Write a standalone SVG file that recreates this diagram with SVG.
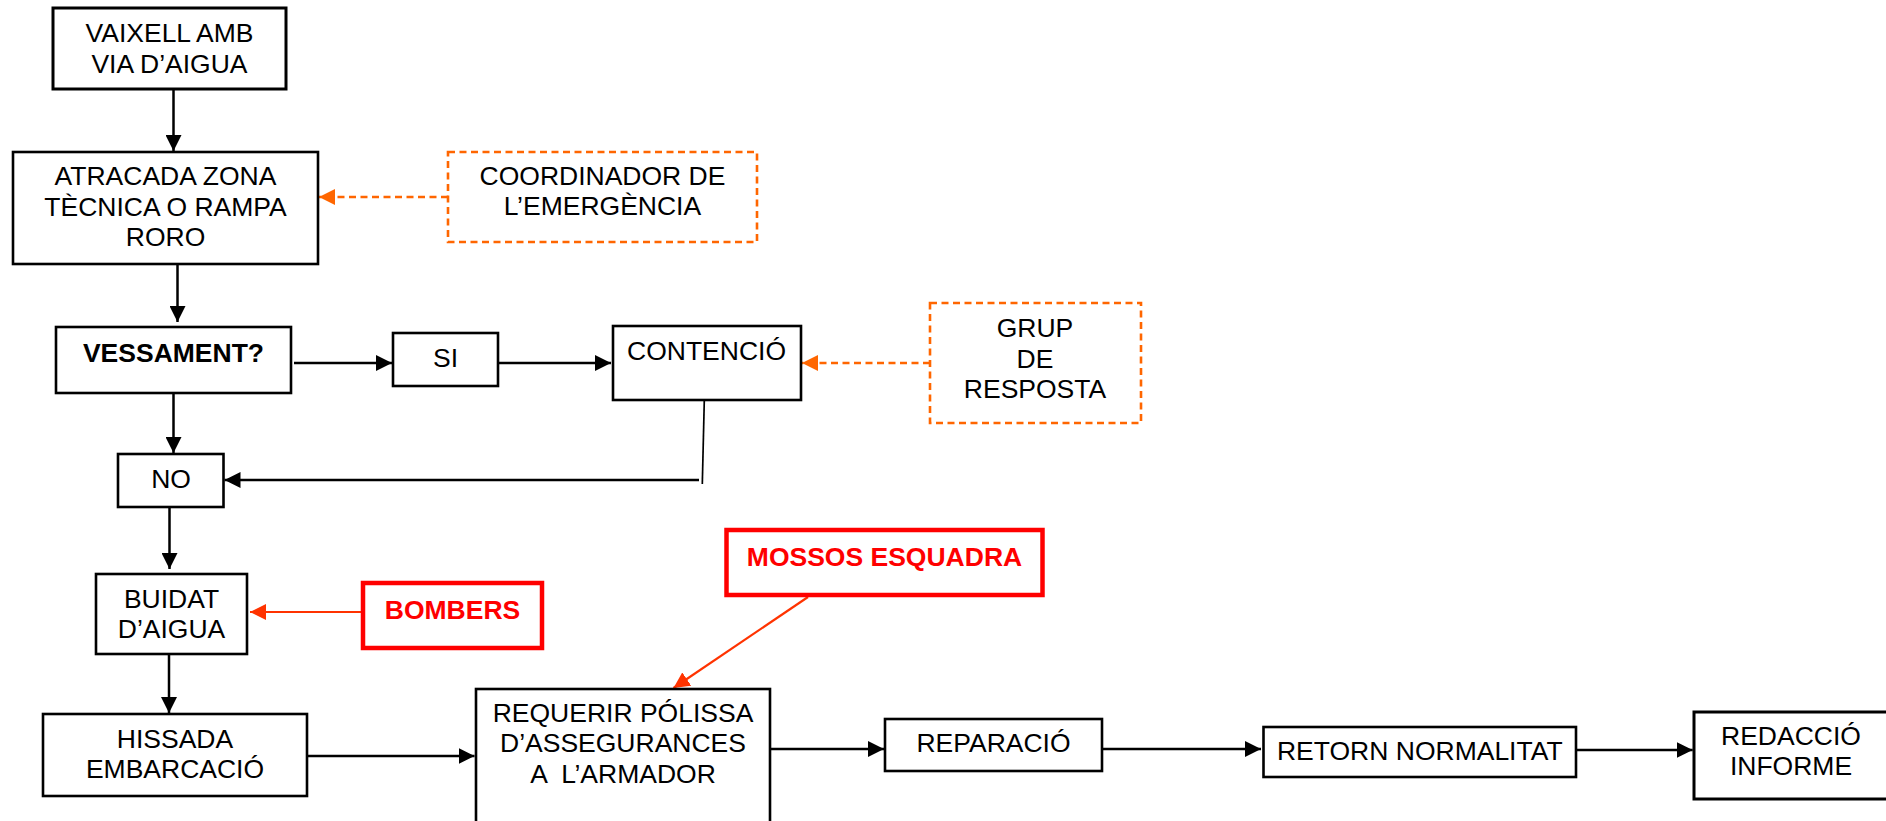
<svg xmlns="http://www.w3.org/2000/svg" width="1886" height="821" viewBox="0 0 1886 821">
<style>
.box{fill:#fff;stroke:#000;stroke-width:2.6}
.dbox{fill:#fff;stroke:#FF6600;stroke-width:2.6;stroke-dasharray:7 4.5}
.rbox{fill:#fff;stroke:#FF0000;stroke-width:4.5}
.t{font-family:"Liberation Sans",Arial,sans-serif;font-size:26.5px;fill:#000;text-anchor:middle}
.b{font-weight:bold}
.r{fill:#FF0000;font-weight:bold}
.c{fill:none;stroke:#000;stroke-width:2.5}
.co{fill:none;stroke:#FF6600;stroke-width:2.6;stroke-dasharray:7 4.5}
.cr{fill:none;stroke:#FF3300;stroke-width:2.2}
</style>
<defs>
<marker id="ak" markerUnits="userSpaceOnUse" markerWidth="16" markerHeight="16" refX="16" refY="8" orient="auto"><path d="M0,0 L16,8 L0,16 Z" fill="#000"/></marker>
<marker id="ao" markerUnits="userSpaceOnUse" markerWidth="16" markerHeight="16" refX="16" refY="8" orient="auto"><path d="M0,0 L16,8 L0,16 Z" fill="#FF6600"/></marker>
<marker id="ar" markerUnits="userSpaceOnUse" markerWidth="16" markerHeight="16" refX="16" refY="8" orient="auto"><path d="M0,0 L16,8 L0,16 Z" fill="#FF3300"/></marker>
</defs>
<rect width="1886" height="821" fill="#fff"/>
<g id="connectors">
<line class="c" x1="173.5" y1="89" x2="173.5" y2="151" marker-end="url(#ak)"/>
<line class="c" x1="177.5" y1="263" x2="177.5" y2="322" marker-end="url(#ak)"/>
<line class="c" x1="173.5" y1="393" x2="173.5" y2="453" marker-end="url(#ak)"/>
<line class="c" x1="294" y1="363" x2="392" y2="363" marker-end="url(#ak)"/>
<line class="c" x1="498" y1="363" x2="611" y2="363" marker-end="url(#ak)"/>
<line class="c" x1="704.3" y1="400" x2="702.3" y2="484" style="stroke-width:1.7"/>
<line class="c" x1="699" y1="480" x2="224.5" y2="480" marker-end="url(#ak)"/>
<line class="c" x1="169.5" y1="507" x2="169.5" y2="569" marker-end="url(#ak)"/>
<line class="c" x1="169" y1="654" x2="169" y2="713" marker-end="url(#ak)"/>
<line class="c" x1="302" y1="756" x2="474.5" y2="756" marker-end="url(#ak)"/>
<line class="c" x1="770" y1="749" x2="884" y2="749" marker-end="url(#ak)"/>
<line class="c" x1="1102" y1="749" x2="1261" y2="749" marker-end="url(#ak)"/>
<line class="c" x1="1576" y1="750" x2="1692.7" y2="750" marker-end="url(#ak)"/>
<line class="co" x1="448" y1="197" x2="319" y2="197" marker-end="url(#ao)"/>
<line class="co" x1="930" y1="363" x2="802" y2="363" marker-end="url(#ao)"/>
<line class="cr" x1="363" y1="612" x2="250" y2="612" marker-end="url(#ar)"/>
<line class="cr" x1="808" y1="597" x2="673.5" y2="688" marker-end="url(#ar)"/>
</g>
<g id="vaixell"><rect class="box" x="53" y="8" width="233" height="81" style="stroke-width:3"/><text class="t" x="169.5" y="42">VAIXELL AMB</text><text class="t" x="169.5" y="73">VIA D’AIGUA</text></g>
<g id="atracada"><rect class="box" x="13" y="152" width="305" height="112"/><text class="t" x="165.5" y="185">ATRACADA ZONA</text><text class="t" x="165.5" y="215.5">TÈCNICA O RAMPA</text><text class="t" x="165.5" y="246">RORO</text></g>
<g id="coordinador"><rect class="dbox" x="448" y="152" width="309" height="90"/><text class="t" x="602.5" y="185">COORDINADOR DE</text><text class="t" x="602.5" y="215">L’EMERGÈNCIA</text></g>
<g id="vessament"><rect class="box" x="56" y="327" width="235" height="66"/><text class="t b" x="173.5" y="362">VESSAMENT?</text></g>
<g id="si"><rect class="box" x="393" y="333" width="105" height="53"/><text class="t" x="445.5" y="367">SI</text></g>
<g id="contencio"><rect class="box" x="613" y="326" width="188" height="74"/><text class="t" x="706.5" y="360">CONTENCIÓ</text></g>
<g id="grup"><rect class="dbox" x="930" y="303" width="211" height="120"/><text class="t" x="1035" y="337">GRUP</text><text class="t" x="1035" y="367.5">DE</text><text class="t" x="1035" y="398">RESPOSTA</text></g>
<g id="no"><rect class="box" x="118" y="454" width="105.5" height="53"/><text class="t" x="171" y="488">NO</text></g>
<g id="buidat"><rect class="box" x="96" y="574" width="151" height="80"/><text class="t" x="171.5" y="608">BUIDAT</text><text class="t" x="171.5" y="638">D’AIGUA</text></g>
<g id="bombers"><rect class="rbox" x="363" y="583" width="179" height="65"/><text class="t r" x="452.5" y="619">BOMBERS</text></g>
<g id="hissada"><rect class="box" x="43" y="714" width="264" height="82"/><text class="t" x="175" y="748">HISSADA</text><text class="t" x="175" y="778">EMBARCACIÓ</text></g>
<g id="requerir"><rect class="box" x="476" y="689" width="294" height="145"/><text class="t" x="623" y="722">REQUERIR PÓLISSA</text><text class="t" x="623" y="752">D’ASSEGURANCES</text><text class="t" x="623" y="783" xml:space="preserve">A  L’ARMADOR</text></g>
<g id="mossos"><rect class="rbox" x="726.5" y="530" width="316" height="65"/><text class="t r" x="884.5" y="566">MOSSOS ESQUADRA</text></g>
<g id="reparacio"><rect class="box" x="885" y="719" width="217" height="52"/><text class="t" x="993.5" y="752">REPARACIÓ</text></g>
<g id="retorn"><rect class="box" x="1263.5" y="727" width="312.5" height="50"/><text class="t" x="1419.8" y="760">RETORN NORMALITAT</text></g>
<g id="redaccio"><rect class="box" x="1694" y="712" width="200" height="87" style="stroke-width:3"/><text class="t" x="1791" y="745">REDACCIÓ</text><text class="t" x="1791" y="775">INFORME</text></g>
</svg>
